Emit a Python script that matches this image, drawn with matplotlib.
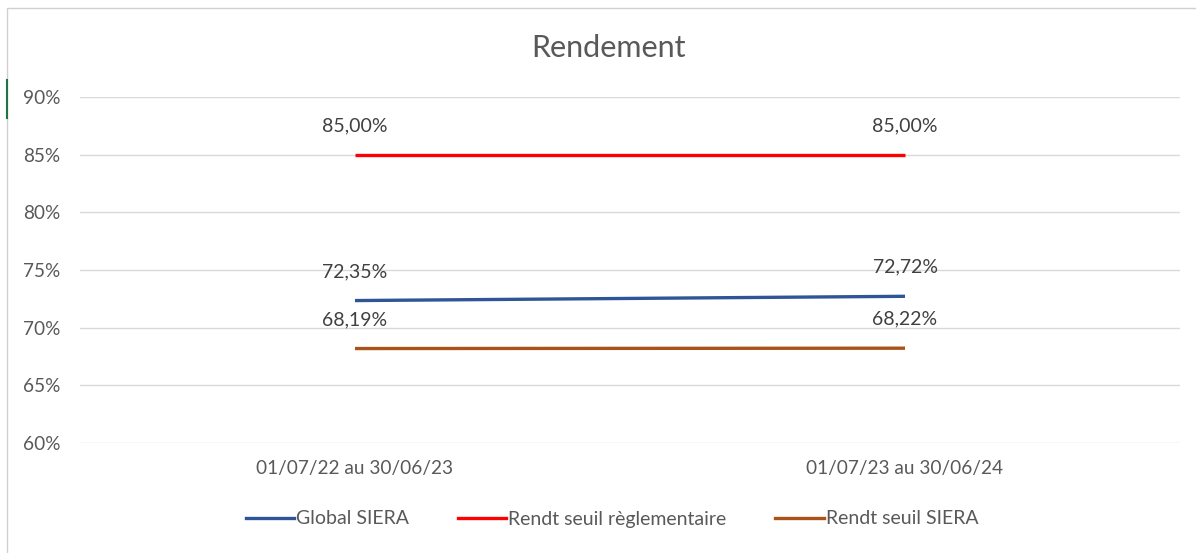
import matplotlib.pyplot as plt
from matplotlib.patches import Rectangle
from matplotlib.lines import Line2D

plt.rcParams['font.family'] = ['Lato', 'DejaVu Sans']

periods = ['01/07/22 au 30/06/23', '01/07/23 au 30/06/24']
global_siera = [72.35, 72.72]
seuil_regl = [85.00, 85.00]
seuil_siera = [68.19, 68.22]
labels = ['Global SIERA', 'Rendt seuil règlementaire', 'Rendt seuil SIERA']
colors = ['#2F5597', '#FF0000', '#A9521A']

W, H = 1196, 553
fig = plt.figure(figsize=(W / 100, H / 100), dpi=100)
ax = fig.add_axes([80 / W, 1 - 443 / H, 1100 / W, 346 / H])

x = list(range(len(periods)))
series = [global_siera, seuil_regl, seuil_siera]
for vals, lab, col in zip(series, labels, colors):
    ax.plot(x, vals, color=col, lw=2.4, label=lab, solid_capstyle='butt')
    for xi, v in zip(x, vals):
        ax.annotate(f'{v:.2f}%'.replace('.', ','), (xi, v), xytext=(0, 21),
                    textcoords='offset points', ha='center', va='center',
                    fontsize=14, color='#404040')

ax.set_xlim(-0.5, 1.5)
ax.set_ylim(60, 90)
ax.set_yticks(range(60, 91, 5))
ax.set_yticklabels([f'{t}%' for t in range(60, 91, 5)])
ax.set_xticks(x)
ax.set_xticklabels(periods)
ax.grid(axis='y', color='#D9D9D9', lw=1)
ax.set_axisbelow(True)
for s in ax.spines.values():
    s.set_visible(False)
ax.tick_params(length=0, labelsize=13.7, labelcolor='#595959')
ax.tick_params(axis='y', pad=14)
ax.tick_params(axis='x', pad=12)

fig.text(608 / W, 1 - 48 / H, 'Rendement', ha='center', va='center',
         fontsize=22, color='#595959')

handles = [Line2D([], [], color=c, lw=2.4) for c in colors]
fig.legend(handles, labels, loc='center', bbox_to_anchor=(612 / W, 1 - 519 / H),
           ncol=3, frameon=False, fontsize=14, labelcolor='#595959',
           handlelength=2.5, handletextpad=0.1, columnspacing=2.5)

# chart area border and small marker on the left
fig.patches.append(Rectangle((7 / W, -0.1), 1.2, 1 - 8 / H + 0.1,
                             transform=fig.transFigure, fill=False,
                             edgecolor='#D0D0D0', lw=1))
fig.lines.append(Line2D([7 / W, 7 / W], [1 - 80 / H, 1 - 118 / H],
                        transform=fig.transFigure, color='#217346', lw=1.5))

fig.savefig('out.png', dpi=100, facecolor='white')
